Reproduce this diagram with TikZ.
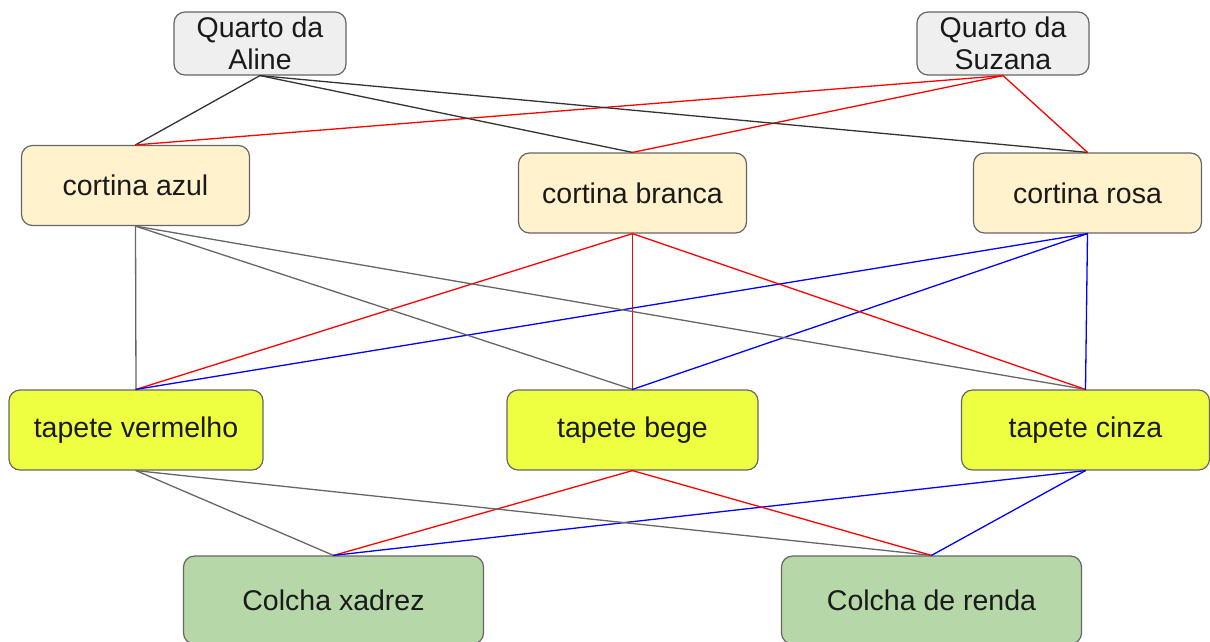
\documentclass[tikz,border=0pt]{standalone}
\usepackage{fontspec}
\setmainfont{Liberation Sans}
\definecolor{quartofill}{HTML}{EFEFEF}
\definecolor{cortinafill}{HTML}{FFF2CC}
\definecolor{tapetefill}{HTML}{EEFF41}
\definecolor{colchafill}{HTML}{B6D7A8}
\definecolor{boxline}{HTML}{666666}
\definecolor{txt}{HTML}{1A1A1A}
\definecolor{darkline}{HTML}{333333}
\definecolor{grayline}{HTML}{666666}
\begin{document}
\begin{tikzpicture}[x=1pt,y=-1pt,line join=round,line cap=round,
	font=\fontsize{28.5}{32}\selectfont]
	\tikzset{box/.style={draw=boxline,line width=1.2pt,rounded corners=11pt,
			text=txt,align=center,inner sep=0pt},
		quarto/.style={box,fill=quartofill,minimum width=172pt,minimum height=63pt},
		cortina/.style={box,fill=cortinafill,minimum width=228pt,minimum height=80pt},
		tapete/.style={box,fill=tapetefill,minimum width=251pt,minimum height=80pt},
		colcha/.style={box,fill=colchafill,minimum width=300pt,minimum height=88pt},
		blk/.style={darkline,line width=1.3pt},
		gry/.style={grayline,line width=1.3pt},
		rd/.style={red,line width=1.3pt},
		bl/.style={blue,line width=1.3pt}}
	\useasboundingbox (0,0) rectangle (1210,641);
	% quartos
	\node[quarto] (aline) at (260,43.5) {Quarto da\\Aline};
	\node[quarto] (suzana) at (1003,43.5) {Quarto da\\Suzana};
	% cortinas
	\node[cortina] (azul) at (135.5,185.5) {cortina azul};
	\node[cortina] (branca) at (632.5,193) {cortina branca};
	\node[cortina] (rosa) at (1087.5,193) {cortina rosa};
	% tapetes
	\node[tapete,minimum width=254pt] (vermelho) at (136,430) {tapete vermelho};
	\node[tapete] (bege) at (632.5,430) {tapete bege};
	\node[tapete,minimum width=248pt] (cinza) at (1085.5,430) {tapete cinza};
	% colchas
	\node[colcha] (xadrez) at (333.5,600) {Colcha xadrez};
	\node[colcha] (renda) at (931.5,600) {Colcha de renda};
	% ligacoes
	\foreach \c in {azul,branca,rosa}{
			\draw[blk] (aline.south)--(\c.north);
			\draw[rd] (suzana.south)--(\c.north);
		}
	\foreach \t in {vermelho,bege,cinza}{
			\draw[gry] (azul.south)--(\t.north);
			\draw[rd] (branca.south)--(\t.north);
			\draw[bl] (rosa.south)--(\t.north);
		}
	\foreach \k in {xadrez,renda}{
			\draw[gry] (vermelho.south)--(\k.north);
			\draw[rd] (bege.south)--(\k.north);
			\draw[bl] (cinza.south)--(\k.north);
		}
\end{tikzpicture}
\end{document}
